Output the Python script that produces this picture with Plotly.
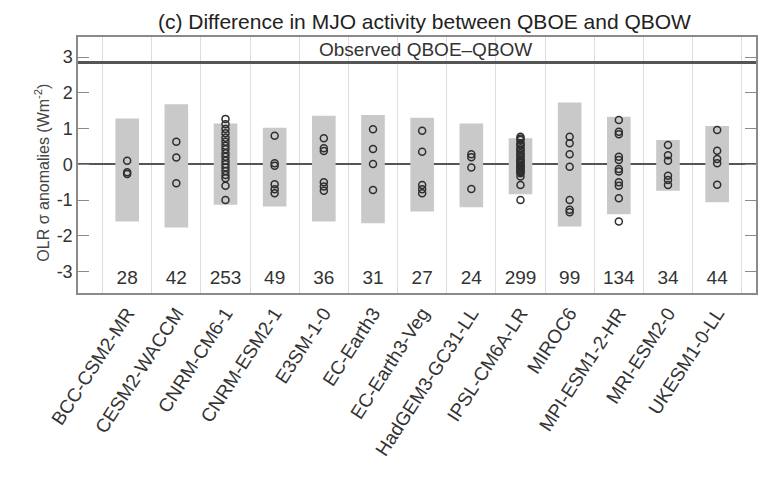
import plotly.graph_objects as go

models = ["BCC-CSM2-MR", "CESM2-WACCM", "CNRM-CM6-1", "CNRM-ESM2-1", "E3SM-1-0",
          "EC-Earth3", "EC-Earth3-Veg", "HadGEM3-GC31-LL", "IPSL-CM6A-LR", "MIROC6",
          "MPI-ESM1-2-HR", "MRI-ESM2-0", "UKESM1-0-LL"]
counts = [28, 42, 253, 49, 36, 31, 27, 24, 299, 99, 134, 34, 44]
range_high = [1.28, 1.68, 1.14, 1.02, 1.36, 1.38, 1.30, 1.14, 0.73, 1.73, 1.33, 0.68, 1.07]
range_low = [-1.60, -1.77, -1.13, -1.18, -1.60, -1.65, -1.32, -1.20, -0.84, -1.74, -1.40, -0.74, -1.06]
members = [
    [0.10, -0.22, -0.27],
    [0.63, 0.19, -0.53],
    [1.27, 1.12, 0.99, 0.87, 0.74, 0.63, 0.52, 0.42, 0.31, 0.21, 0.10, 0.0, -0.09,
     -0.19, -0.30, -0.39, -0.60, -1.00],
    [0.80, 0.03, -0.04, -0.56, -0.70, -0.81],
    [0.73, 0.45, 0.37, -0.50, -0.62, -0.74],
    [0.98, 0.43, 0.01, -0.72],
    [0.94, 0.35, -0.58, -0.70, -0.81],
    [0.28, 0.20, -0.09, -0.69],
    [0.77, 0.72, 0.68, 0.59, 0.55, 0.52, 0.45, 0.40, 0.37, 0.31, 0.27, 0.23, 0.17,
     0.13, 0.09, 0.06, 0.03, -0.02, -0.05, -0.08, -0.11, -0.15, -0.19, -0.22, -0.25,
     -0.34, -0.58, -1.00],
    [0.77, 0.59, 0.28, -0.07, -1.00, -1.27, -1.34],
    [1.24, 0.91, 0.84, 0.21, 0.12, -0.13, -0.20, -0.50, -0.60, -0.95, -1.60],
    [0.54, 0.25, 0.10, -0.32, -0.44, -0.58],
    [0.96, 0.38, 0.15, 0.03, -0.57],
]
observed_diff = 2.85
y_ticks = [-3, -2, -1, 0, 1, 2, 3]

xpos = list(range(1, len(models) + 1))
FONT = "Liberation Sans, Arial, Helvetica, sans-serif"

fig = go.Figure()

fig.add_trace(go.Bar(
    x=xpos,
    y=[h - l for h, l in zip(range_high, range_low)],
    base=range_low,
    width=0.48,
    marker=dict(color="#c9c9c9", line=dict(width=0)),
    hoverinfo="skip",
))

mx, my = [], []
for i, vals in enumerate(members):
    for v in vals:
        mx.append(xpos[i])
        my.append(v)
fig.add_trace(go.Scatter(
    x=mx, y=my, mode="markers",
    marker=dict(symbol="circle-open", size=7, color="#2e2e2e", line=dict(width=1.5)),
))

fig.add_trace(go.Scatter(
    x=xpos, y=[-3.22] * len(xpos), mode="text",
    text=[str(c) for c in counts],
    textfont=dict(family=FONT, size=19, color="#333333"),
    textposition="middle center",
))

fig.add_shape(type="line", xref="paper", x0=0, x1=1, yref="y",
              y0=observed_diff, y1=observed_diff,
              line=dict(color="#555555", width=3), layer="above")

fig.add_annotation(text="Observed QBOE\u2013QBOW", xref="paper", yref="y",
                   x=0.512, y=3.22, showarrow=False,
                   font=dict(family=FONT, size=19, color="#333333"))

fig.add_annotation(text="OLR \u03c3 anomalies (Wm<sup>-2</sup>)", xref="paper", yref="paper",
                   x=0, y=0.47, xshift=-36, textangle=-90, showarrow=False,
                   xanchor="center", yanchor="middle",
                   font=dict(family=FONT, size=16, color="#444444"))

fig.update_layout(
    width=758, height=481,
    margin=dict(l=78, r=0, t=37, b=188),
    paper_bgcolor="white", plot_bgcolor="white",
    showlegend=False,
    title=dict(text="(c) Difference in MJO activity between QBOE and QBOW",
               xref="paper", x=0.511, xanchor="center",
               yref="container", y=1 - 22 / 481, yanchor="middle",
               font=dict(family=FONT, size=21, color="#222222")),
    xaxis=dict(
        range=[0, 13.79],
        tickmode="array", tickvals=xpos, ticktext=models,
        tickangle=-57, ticks="", showgrid=False, zeroline=False,
        tickfont=dict(family=FONT, size=19, color="#333333"),
        showline=True, linecolor="#8a8a8a", linewidth=1.5, mirror=True,
        minor=dict(tickmode="array", tickvals=[x + 0.5 for x in [0] + xpos],
                   showgrid=True, gridcolor="#dddddd", gridwidth=1, ticks=""),
    ),
    yaxis=dict(
        range=[-3.6, 3.56],
        tickmode="array", tickvals=y_ticks, ticktext=[str(v) for v in y_ticks],
        ticks="inside", ticklen=11, tickcolor="#8a8a8a", tickwidth=1.3,
        tickfont=dict(family=FONT, size=18, color="#333333"),
        showgrid=False,
        zeroline=True, zerolinecolor="#555555", zerolinewidth=1.5,
        showline=True, linecolor="#8a8a8a", linewidth=1.5, mirror="ticks",
    ),
)

fig.write_html("out.html")
